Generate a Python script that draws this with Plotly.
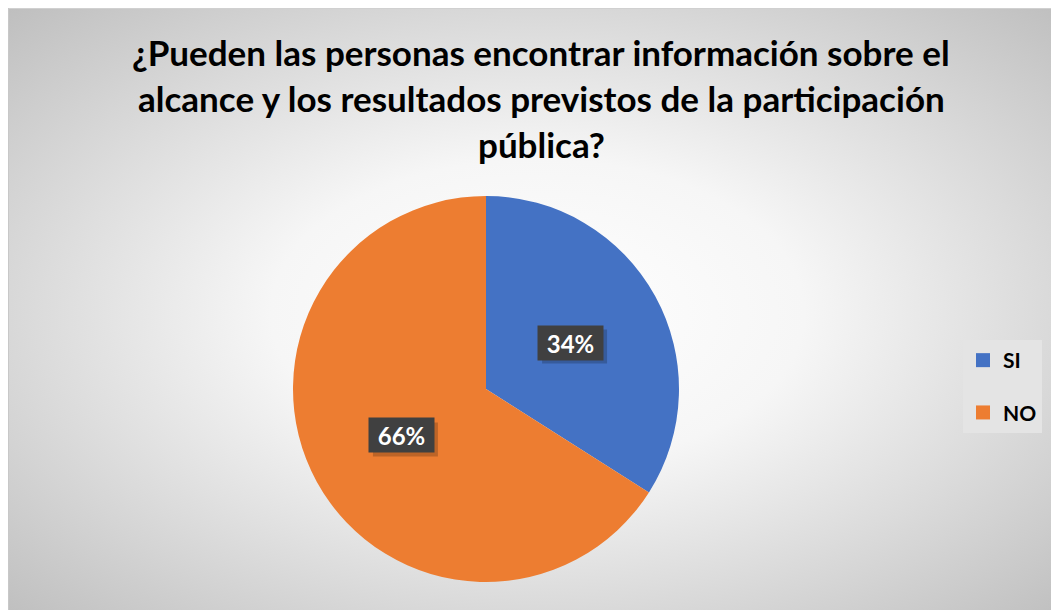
import base64
import math

import plotly.graph_objects as go

# data
labels = ["SI", "NO"]
values = [34, 66]
colors = ["#4472C4", "#ED7D31"]
title_lines = [
    "¿Pueden las personas encontrar información sobre el",
    "alcance y los resultados previstos de la participación",
    "pública?",
]

W, H = 1059, 610
FONT = "Lato"
OFF = 8  # page body margin, figure starts 8px in

# pie placement in page pixels
CX, CY, R = 486 - OFF, 389 - OFF, 193


def px(x):
    return x / W


def py(y):
    return (H - y) / H


# radial gradient background (like the Excel chart area)
svg = (
    '<svg xmlns="http://www.w3.org/2000/svg" width="1052" height="603">'
    '<defs><radialGradient id="g" cx="50%" cy="50%" r="72%">'
    '<stop offset="0" stop-color="#ffffff"/>'
    '<stop offset="0.35" stop-color="#f6f6f6"/>'
    '<stop offset="1" stop-color="#bdbdbd"/>'
    "</radialGradient></defs>"
    '<rect width="1052" height="603" fill="url(#g)"/>'
    '<line x1="0" y1="0.5" x2="1052" y2="0.5" stroke="#d0d0d0"/>'
    '<line x1="0.5" y1="0" x2="0.5" y2="603" stroke="#c8c8c8"/>'
    "</svg>"
)
bg_src = "data:image/svg+xml;base64," + base64.b64encode(svg.encode()).decode()

fig = go.Figure()

fig.add_trace(
    go.Pie(
        labels=labels,
        values=values,
        marker=dict(colors=colors, line=dict(width=0)),
        sort=False,
        direction="clockwise",
        rotation=0,
        textinfo="none",
        showlegend=False,
        domain=dict(
            x=[px(CX - R), px(CX + R)],
            y=[py(CY + R), py(CY - R)],
        ),
    )
)

# legend entries as dummy traces so the gap can match
for lab, col in zip(labels, colors):
    fig.add_trace(
        go.Scatter(
            x=[None],
            y=[None],
            mode="markers",
            name=lab,
            legendgroup=lab,
            marker=dict(symbol="square", size=14, color=col),
        )
    )

# data labels, placed at half radius along each slice's middle angle
total = sum(values)
start = 0
bw, bh = 65, 34
for v in values:
    mid = (start + v / 2) / total * 2 * math.pi
    start += v
    lx = CX + 0.5 * R * math.sin(mid)
    ly = CY - 0.5 * R * math.cos(mid)
    # shadow
    fig.add_shape(
        type="rect", xref="paper", yref="paper",
        x0=px(lx - bw / 2 + 4), x1=px(lx + bw / 2 + 4),
        y0=py(ly + bh / 2 + 4), y1=py(ly - bh / 2 + 4),
        fillcolor="rgba(0,0,0,0.2)", line=dict(width=0), layer="above",
    )
    fig.add_annotation(
        x=px(lx), y=py(ly), xref="paper", yref="paper",
        xanchor="center", yanchor="middle",
        text="<b>%d%%</b>" % round(v / total * 100), showarrow=False,
        width=bw - 8, height=bh - 8, borderpad=4,
        bgcolor="#404040", font=dict(family=FONT, size=24, color="white"),
    )

for i, line in enumerate(title_lines):
    fig.add_annotation(
        x=px(541 - OFF), y=py(52 - OFF + i * 46), xref="paper", yref="paper",
        xanchor="center", yanchor="middle",
        text="<b>%s</b>" % line, showarrow=False,
        font=dict(family=FONT, size=35, color="black"),
    )

fig.add_layout_image(
    dict(
        source=bg_src, xref="paper", yref="paper",
        x=0, y=1, sizex=1, sizey=1,
        xanchor="left", yanchor="top", sizing="stretch", layer="below",
    )
)

fig.update_layout(
    width=W,
    height=H,
    margin=dict(l=0, r=0, t=0, b=0),
    paper_bgcolor="white",
    plot_bgcolor="rgba(0,0,0,0)",
    xaxis=dict(visible=False),
    yaxis=dict(visible=False),
    legend=dict(
        x=px(963 - OFF), y=py(340 - OFF), xanchor="left", yanchor="top",
        bgcolor="#e4e4e4", tracegroupgap=22,
        font=dict(family=FONT, size=21, color="black", weight="bold"),
        itemwidth=30,
    ),
)

fig.write_html("out.html")
